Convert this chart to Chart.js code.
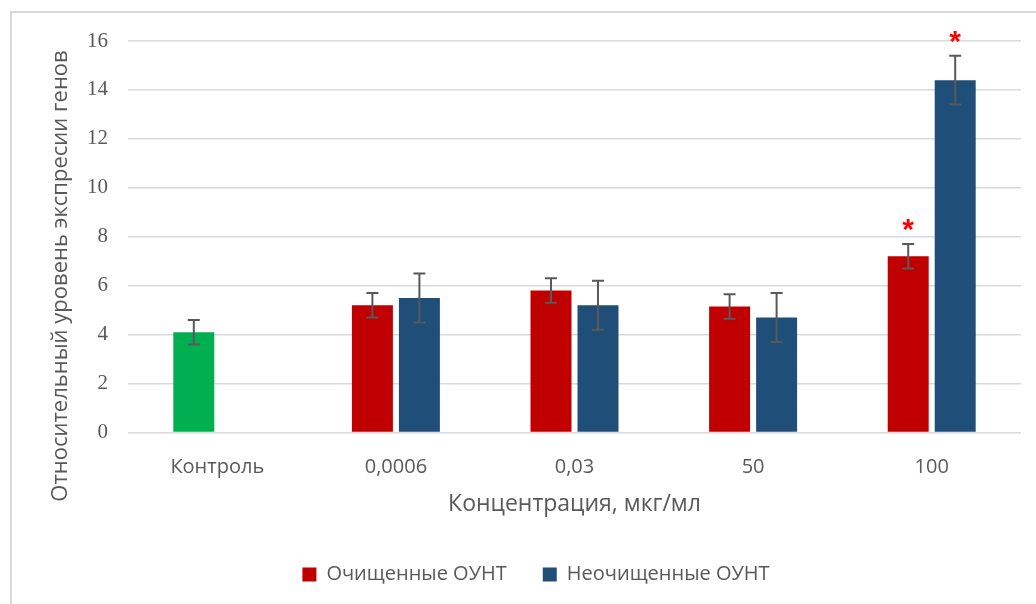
<!DOCTYPE html>
<html>
<head>
<meta charset="utf-8">
<script src="https://cdn.jsdelivr.net/npm/chart.js@4/dist/chart.umd.min.js"></script>
<style>
  html, body { margin: 0; padding: 0; background: #fff; }
  #wrap { position: relative; width: 1036px; height: 604px; overflow: hidden; }
  #frame { position: absolute; left: 10px; top: 11px; width: 1200px; height: 800px;
           border-left: 2px solid #d9d9d9; border-top: 2px solid #d9d9d9; }
  #chart { position: absolute; left: 0; top: 0; }
</style>
</head>
<body>
<div id="wrap">
  <div id="frame"></div>
  <canvas id="chart" width="1036" height="604"></canvas>
</div>
<script>
const categories = ['Контроль', '0,0006', '0,03', '50', '100'];
const seriesNames = ['Очищенные ОУНТ', 'Неочищенные ОУНТ'];
const purified = [4.1, 5.2, 5.8, 5.15, 7.2];
const unpurified = [null, 5.5, 5.2, 4.7, 14.4];
const purifiedErr = [0.5, 0.5, 0.5, 0.5, 0.5];
const unpurifiedErr = [null, 1.0, 1.0, 1.0, 1.0];
const purifiedStar = [false, false, false, false, true];
const unpurifiedStar = [false, false, false, false, true];
const yTicks = [0, 2, 4, 6, 8, 10, 12, 14, 16];
const yTitle = 'Относительный уровень экспресии генов';
const xTitle = 'Концентрация, мкг/мл';

const RED = '#C00000';
const BLUE = '#1F4E79';
const GREEN = '#00B050';
const TEXT = '#595959';
const seriesColors = [RED, BLUE];

// error bars + significance stars, placed from the bars the library drew
const errorBars = {
    id: 'errorBars',
    afterDatasetsDraw(chart) {
        const { ctx, scales: { y } } = chart;
        const errs = [purifiedErr, unpurifiedErr];
        const stars = [purifiedStar, unpurifiedStar];
        chart.data.datasets.forEach((ds, di) => {
            const meta = chart.getDatasetMeta(di);
            meta.data.forEach((bar, i) => {
                const v = ds.data[i];
                const e = errs[di][i];
                if (v == null || e == null) return;
                const top = y.getPixelForValue(v + e);
                const bot = y.getPixelForValue(v - e);
                ctx.save();
                ctx.strokeStyle = TEXT;
                ctx.lineWidth = 2;
                ctx.beginPath();
                ctx.moveTo(bar.x, top); ctx.lineTo(bar.x, bot);
                ctx.moveTo(bar.x - 6, top); ctx.lineTo(bar.x + 6, top);
                ctx.moveTo(bar.x - 6, bot); ctx.lineTo(bar.x + 6, bot);
                ctx.stroke();
                if (stars[di][i]) {
                    ctx.fillStyle = '#FF0000';
                    ctx.font = 'bold 30px "Liberation Sans"';
                    ctx.textAlign = 'center';
                    ctx.textBaseline = 'alphabetic';
                    const m = ctx.measureText('*');
                    const cy = top - 19;
                    ctx.fillText('*', bar.x, cy + (m.actualBoundingBoxAscent - m.actualBoundingBoxDescent) / 2);
                }
                ctx.restore();
            });
        });
    }
};

const yAxisTitle = {
    id: 'yAxisTitle',
    afterDraw(chart) {
        const { ctx } = chart;
        ctx.save();
        ctx.translate(61, 276);
        ctx.rotate(-Math.PI / 2);
        ctx.fillStyle = TEXT;
        ctx.font = '22px "Open Sans"';
        ctx.textAlign = 'center';
        ctx.textBaseline = 'middle';
        ctx.fillText(yTitle, 0, 0);
        ctx.restore();
    }
};

new Chart(document.getElementById('chart').getContext('2d'), {
    type: 'bar',
    data: {
        labels: categories,
        datasets: [
            {
                label: seriesNames[0],
                data: purified,
                backgroundColor: c => (c.type === 'data' && c.dataIndex === 0) ? GREEN : RED,
                categoryPercentage: 0.5263,
                barPercentage: 0.872,
            },
            {
                label: seriesNames[1],
                data: unpurified,
                backgroundColor: BLUE,
                categoryPercentage: 0.5263,
                barPercentage: 0.872,
            }
        ]
    },
    options: {
        responsive: false,
        animation: false,
        layout: { padding: { top: 41, right: 15, left: 51, bottom: 15.5 } },
        plugins: {
            legend: {
                position: 'bottom',
                maxHeight: 60,
                labels: {
                    boxWidth: 14,
                    boxHeight: 14,
                    padding: 36,
                    color: TEXT,
                    font: { family: 'Open Sans', size: 20 },
                    generateLabels: chart => Chart.defaults.plugins.legend.labels.generateLabels(chart)
                        .map((item, i) => ({ ...item, fillStyle: seriesColors[i], strokeStyle: seriesColors[i], lineWidth: 0 }))
                }
            },
            tooltip: { enabled: false }
        },
        scales: {
            x: {
                grid: { display: false },
                border: { display: false },
                ticks: { color: TEXT, padding: 15, font: { family: 'Open Sans', size: 20 } },
                title: {
                    display: true,
                    text: xTitle,
                    color: TEXT,
                    font: { family: 'Open Sans', size: 23 },
                    padding: { top: 0, bottom: 10 }
                },
                afterFit: axis => { axis.height = 96; }
            },
            y: {
                min: 0,
                max: 16,
                afterBuildTicks: axis => { axis.ticks = yTicks.map(v => ({ value: v })); },
                grid: { color: '#D9D9D9', lineWidth: 1.5, drawTicks: false },
                border: { display: false },
                ticks: { color: TEXT, padding: 20, font: { family: 'Liberation Serif', size: 21 } },
                afterFit: axis => { axis.width = 77; }
            }
        }
    },
    plugins: [errorBars, yAxisTitle]
});
</script>
</body>
</html>
